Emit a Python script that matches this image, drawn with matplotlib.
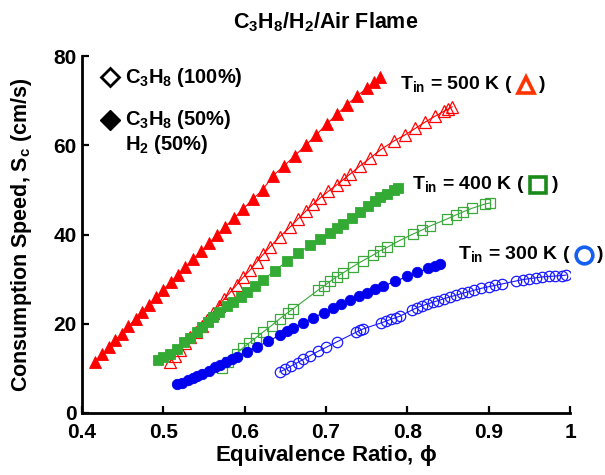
import matplotlib
matplotlib.use("Agg")
import matplotlib.pyplot as plt
from matplotlib.offsetbox import HPacker, TextArea, DrawingArea, AnnotationBbox
from matplotlib.lines import Line2D

plt.rcParams['font.family'] = ['Liberation Sans', 'DejaVu Sans']
plt.rcParams['font.weight'] = 'bold'
plt.rcParams['mathtext.default'] = 'regular'

# ---- data ----
phi_h2_500 = [0.416, 0.425, 0.433, 0.441, 0.449, 0.457, 0.466, 0.474, 0.482, 0.491, 0.500,
              0.509, 0.518, 0.527, 0.536, 0.546, 0.556, 0.566, 0.576, 0.587, 0.598, 0.610,
              0.622, 0.635, 0.648, 0.662, 0.675, 0.688, 0.701, 0.714, 0.726, 0.738, 0.751,
              0.759, 0.767]
sc_h2_500 = [11.5, 13.2, 14.7, 16.3, 17.8, 19.4, 21.1, 22.7, 24.2, 25.9, 27.6,
             29.3, 31.0, 32.7, 34.4, 36.2, 38.0, 39.9, 41.7, 43.7, 45.7, 47.9,
             50.0, 53.2, 55.3, 57.7, 60.0, 62.3, 64.8, 67.0, 69.1, 71.0, 72.9,
             74.2, 75.4]

phi_c3_500 = [0.508, 0.514, 0.520, 0.527, 0.533, 0.540, 0.547, 0.554, 0.561, 0.568, 0.575,
              0.582, 0.590, 0.598, 0.607, 0.615, 0.623, 0.631, 0.643, 0.656, 0.665, 0.675,
              0.684, 0.693, 0.703, 0.713, 0.722, 0.730, 0.742, 0.754, 0.768, 0.783, 0.797,
              0.810, 0.822, 0.834, 0.845, 0.850, 0.855]
sc_c3_500 = [11.5, 12.8, 14.1, 15.7, 17.0, 18.2, 19.6, 20.9, 22.5, 24.0, 25.6,
             27.0, 28.7, 30.4, 32.1, 33.9, 35.6, 37.2, 39.5, 41.7, 43.4, 45.2,
             46.8, 48.2, 49.7, 51.1, 52.4, 53.6, 55.4, 57.1, 59.1, 60.9, 62.3,
             63.8, 65.2, 66.5, 67.6, 68.1, 68.6]

phi_h2_400 = [0.493, 0.500, 0.508, 0.517, 0.525, 0.533, 0.541, 0.548, 0.555, 0.561, 0.569,
              0.578, 0.586, 0.595, 0.603, 0.613, 0.623, 0.637, 0.652, 0.666, 0.680, 0.693,
              0.705, 0.713, 0.721, 0.732, 0.742, 0.752, 0.760, 0.767, 0.775, 0.783, 0.789]
sc_h2_400 = [11.8, 12.6, 13.3, 14.4, 15.8, 16.9, 18.1, 19.3, 20.5, 21.5, 22.7,
             23.9, 24.9, 26.0, 27.1, 28.5, 29.9, 31.9, 34.0, 35.8, 37.6, 39.1,
             40.4, 41.4, 42.4, 43.8, 45.0, 46.3, 47.4, 48.3, 49.1, 49.9, 50.4]

phi_c3_400 = [0.572, 0.580, 0.590, 0.598, 0.605, 0.614, 0.623, 0.633, 0.643, 0.653, 0.660,
              0.690, 0.697, 0.705, 0.713, 0.721, 0.733, 0.745, 0.758, 0.766, 0.775, 0.790,
              0.807, 0.818, 0.828, 0.849, 0.860, 0.869, 0.880, 0.895, 0.902]
sc_c3_400 = [10.1, 11.5, 13.3, 14.6, 15.6, 16.9, 18.2, 19.6, 21.1, 22.5, 23.4,
             27.5, 28.4, 29.5, 30.5, 31.4, 32.8, 34.1, 35.4, 36.3, 37.1, 38.6,
             40.1, 41.0, 41.9, 43.5, 44.4, 45.1, 45.9, 46.8, 47.1]

phi_h2_300 = [0.517, 0.523, 0.530, 0.536, 0.541, 0.548, 0.556, 0.563, 0.570, 0.577, 0.584,
              0.590, 0.603, 0.615, 0.629, 0.643, 0.652, 0.660, 0.672, 0.684, 0.697, 0.709,
              0.719, 0.730, 0.741, 0.751, 0.760, 0.770, 0.785, 0.800, 0.812, 0.826, 0.834,
              0.840]
sc_h2_300 = [6.4, 6.8, 7.3, 7.8, 8.2, 8.8, 9.5, 10.2, 10.8, 11.4, 12.0,
             12.6, 13.7, 14.8, 16.1, 17.4, 18.3, 19.0, 20.2, 21.3, 22.5, 23.6,
             24.5, 25.4, 26.3, 27.0, 27.7, 28.4, 29.5, 30.6, 31.5, 32.4, 32.9,
             33.3]

phi_c3_300 = [0.643, 0.650, 0.657, 0.665, 0.672, 0.680, 0.690, 0.700, 0.714, 0.737, 0.742,
              0.745, 0.768, 0.774, 0.780, 0.786, 0.791, 0.806, 0.812, 0.818, 0.824, 0.831,
              0.838, 0.845, 0.852, 0.860, 0.867, 0.874, 0.882, 0.890, 0.900, 0.908, 0.916,
              0.934, 0.942, 0.950, 0.958, 0.966, 0.974, 0.982, 0.990, 0.995]
sc_c3_300 = [9.2, 9.8, 10.5, 11.3, 12.0, 12.8, 13.8, 14.7, 16.0, 18.1, 18.5,
             18.8, 20.2, 20.6, 21.0, 21.4, 21.7, 23.1, 23.6, 24.0, 24.4, 24.8,
             25.2, 25.6, 26.0, 26.4, 26.8, 27.1, 27.5, 27.9, 28.3, 28.6, 28.9,
             29.6, 29.9, 30.1, 30.3, 30.5, 30.6, 30.7, 30.8, 30.9]

x_ticks = [0.4, 0.5, 0.6, 0.7, 0.8, 0.9, 1.0]
x_tick_labels = ['0.4', '0.5', '0.6', '0.7', '0.8', '0.9', '1']
y_ticks = [0, 20, 40, 60, 80]

RED = '#ff0000'
GREEN = '#33aa33'
GREEN_OPEN = '#3aa83a'
BLUE = '#0000ee'
BLUE_OPEN = '#1a1aff'

fig = plt.figure(figsize=(6.05, 4.75), dpi=100)
ax = fig.add_axes([82/605, 62/475, 488/605, 357/475])

lw = 0.8
# 500 K
ax.plot(phi_h2_500, sc_h2_500, '-', color=RED, lw=lw, marker='^', ms=8.5,
        mfc=RED, mec=RED, mew=0.6)
ax.plot(phi_c3_500, sc_c3_500, '-', color=RED, lw=lw, marker='^', ms=8.5,
        mfc='none', mec=RED, mew=0.9)
# 400 K
ax.plot(phi_h2_400, sc_h2_400, '-', color=GREEN, lw=lw, marker='s', ms=7,
        mfc=GREEN, mec=GREEN, mew=0.6)
ax.plot(phi_c3_400, sc_c3_400, '-', color=GREEN_OPEN, lw=lw, marker='s', ms=7,
        mfc='none', mec=GREEN_OPEN, mew=0.9)
# 300 K
ax.plot(phi_h2_300, sc_h2_300, '-', color=BLUE, lw=lw, marker='o', ms=7.5,
        mfc=BLUE, mec=BLUE, mew=0.6)
ax.plot(phi_c3_300, sc_c3_300, '-', color=BLUE_OPEN, lw=lw, marker='o', ms=7.5,
        mfc='none', mec=BLUE_OPEN, mew=0.9)

ax.set_xlim(0.4, 1.0)
ax.set_ylim(0, 80)
ax.set_xticks(x_ticks)
ax.set_xticklabels(x_tick_labels)
ax.set_yticks(y_ticks)
for s in ['top', 'right']:
    ax.spines[s].set_visible(False)
for s in ['left', 'bottom']:
    ax.spines[s].set_linewidth(2)
ax.tick_params(direction='in', length=5, width=1.6, labelsize=15)
ax.tick_params(axis='x', pad=7)
ax.tick_params(axis='y', pad=4)
for lab in ax.get_xticklabels() + ax.get_yticklabels():
    lab.set_fontweight('bold')

ax.set_xlabel('Equivalence Ratio, $\\phi$', fontsize=16, fontweight='bold')
ax.set_ylabel('Consumption Speed, S$_c$ (cm/s)', fontsize=15.5, fontweight='bold')
ax.xaxis.set_label_coords(0.5, -0.083)
ax.yaxis.set_label_coords(-0.098, 0.5)
ax.set_title('C$_3$H$_8$/H$_2$/Air Flame', fontsize=15.5, fontweight='bold', pad=20)

# legend-like entries (upper left)
ax.plot([0.057], [0.941], transform=ax.transAxes, marker='D', ms=9.5, mfc='white',
        mec='black', mew=2, clip_on=False, ls='none')
ax.plot([0.057], [0.821], transform=ax.transAxes, marker='D', ms=10.5, mfc='black',
        mec='black', mew=1, clip_on=False, ls='none')
ax.text(0.088, 0.941, 'C$_3$H$_8$ (100%)', transform=ax.transAxes, fontsize=14.5,
        fontweight='bold', va='center', ha='left')
ax.text(0.088, 0.821, 'C$_3$H$_8$ (50%)', transform=ax.transAxes, fontsize=14.5,
        fontweight='bold', va='center', ha='left')
ax.text(0.088, 0.752, 'H$_2$ (50%)', transform=ax.transAxes, fontsize=14.5,
        fontweight='bold', va='center', ha='left')

# temperature annotations
def temp_label(txt, marker, color, xy):
    da = DrawingArea(15, 15, 0, 0)
    da.add_artist(Line2D([7.5], [7.5], marker=marker, ms=12, mfc='none', mec=color,
                         mew=2.6, ls='none'))
    t1 = TextArea(txt, textprops=dict(fontsize=14, fontweight='bold'))
    t2 = TextArea(')', textprops=dict(fontsize=14, fontweight='bold'))
    box = HPacker(children=[t1, da, t2], align='center', pad=0, sep=2)
    ab = AnnotationBbox(box, xy, xycoords='axes fraction', box_alignment=(0, 0.5),
                        frameon=False, pad=0)
    ax.add_artist(ab)

temp_label('T$_{in}$ = 500 K (', '^', '#ff3300', (0.652, 0.919))
temp_label('T$_{in}$ = 400 K (', 's', '#1a8a1a', (0.677, 0.639))
temp_label('T$_{in}$ = 300 K (', 'o', '#1560f0', (0.770, 0.443))

fig.savefig('out.png', dpi=100)
